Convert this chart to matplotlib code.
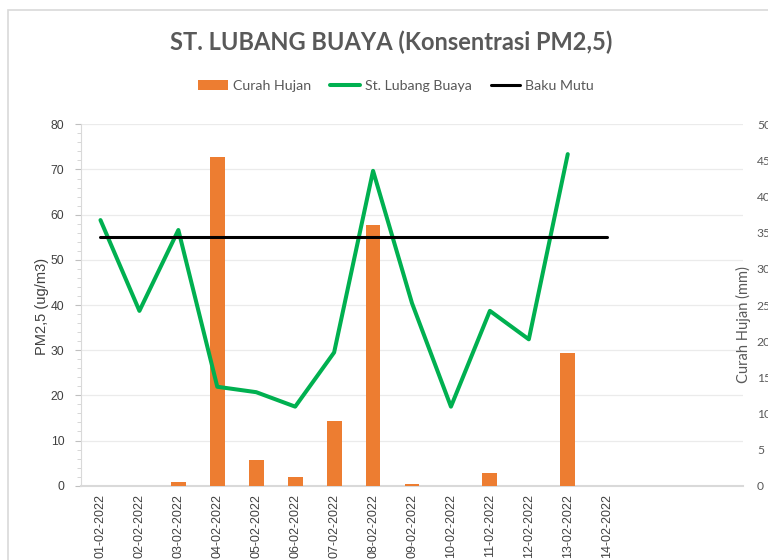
"""Grafik PM2,5 dan curah hujan St. Lubang Buaya"""

import numpy as np
import matplotlib
matplotlib.use("Agg")
import matplotlib.pyplot as plt
from matplotlib.patches import Rectangle
from matplotlib.ticker import MultipleLocator

# Data
tanggal = ["01-02-2022", "02-02-2022", "03-02-2022", "04-02-2022",
           "05-02-2022", "06-02-2022", "07-02-2022", "08-02-2022",
           "09-02-2022", "10-02-2022", "11-02-2022", "12-02-2022",
           "13-02-2022", "14-02-2022", "", "", ""]
curah_hujan = [0, 0, 0.5, 45.5, 3.5, 1.2, 9.0, 36.0, 0.3, 0, 1.8, 0, 18.3, 0,
               np.nan, np.nan, np.nan]
pm25 = [58.8, 38.7, 56.6, 21.9, 20.7, 17.5, 29.5, 69.7, 40.4, 17.5, 38.7,
        32.4, 73.4, np.nan, np.nan, np.nan, np.nan]
baku_mutu = [55] * 14 + [np.nan] * 3

ABU = "#595959"
FONT_ARIAL = "Liberation Sans"
FONT_CALIBRI = "Lato"


def main() -> None:
    """main function"""
    fig = plt.figure(figsize=(7.68, 5.6), dpi=100)
    x = np.arange(len(tanggal))

    # sumbu dasar: grid + skala kiri
    ax1 = fig.add_axes([81 / 768, 1 - 485.7 / 560, 662 / 768, 361.4 / 560])
    ax2 = ax1.twinx()  # curah hujan (kanan)
    ax3 = ax1.twinx()  # garis PM2,5 di atas batang
    for a in (ax2, ax3):
        a.patch.set_visible(False)

    ax1.set_xlim(-0.5, len(tanggal) - 0.5)
    ax1.set_ylim(0, 80)
    ax2.set_ylim(0, 50)
    ax3.set_ylim(0, 80)

    b = ax2.bar(x, curah_hujan, width=0.38, color="#ED7D31", label="Curah Hujan")
    l1, = ax3.plot(x, pm25, color="#00B050", lw=2.9, label="St. Lubang Buaya",
                   solid_joinstyle="round", solid_capstyle="round")
    l2, = ax3.plot(x, baku_mutu, color="black", lw=2.2, label="Baku Mutu",
                   solid_capstyle="round")

    # grid dan sumbu kiri
    ax1.yaxis.set_major_locator(MultipleLocator(10))
    ax1.yaxis.set_minor_locator(MultipleLocator(2))
    ax1.grid(axis="y", color="#EBEBEB", lw=0.9)
    ax1.set_axisbelow(True)
    ax1.tick_params(axis="y", which="major", length=4, color="#BFBFBF",
                    pad=8, labelsize=8.7, labelcolor="#404040")
    ax1.tick_params(axis="y", which="minor", length=3, color="#D0D0D0")
    for lab in ax1.get_yticklabels():
        lab.set_fontfamily(FONT_ARIAL)
    ax1.set_xticks(x)
    ax1.set_xticklabels(tanggal, rotation=90, fontfamily=FONT_ARIAL,
                        fontsize=9, color="#404040")
    ax1.tick_params(axis="x", length=0, pad=6)
    ax1.set_ylabel("PM2,5 (ug/m3)", fontfamily=FONT_ARIAL, fontsize=10.5,
                   color="#404040")
    ax1.yaxis.set_label_coords(-0.048, 0.497)

    for a in (ax1, ax2, ax3):
        for s in ("top", "right"):
            a.spines[s].set_visible(False)
    for a in (ax2, ax3):
        a.spines["left"].set_visible(False)
        a.spines["bottom"].set_visible(False)
    ax1.spines["left"].set_color("#D9D9D9")
    ax1.spines["left"].set_linewidth(0.8)
    ax1.spines["bottom"].set_color("#D9D9D9")
    ax1.spines["bottom"].set_linewidth(1.5)

    # sumbu kanan
    ax2.yaxis.set_major_locator(MultipleLocator(5))
    ax2.tick_params(axis="y", length=0, pad=10, labelsize=8.7, labelcolor=ABU)
    for lab in ax2.get_yticklabels():
        lab.set_fontfamily(FONT_CALIBRI)
    ax2.set_ylabel("Curah Hujan (mm)", fontfamily=FONT_CALIBRI, fontsize=10.5,
                   color=ABU)
    ax2.yaxis.set_label_coords(0.989, 0.445)
    ax3.set_yticks([])

    fig.text(391.5 / 768, 1 - 42 / 560, "ST. LUBANG BUAYA (Konsentrasi PM2,5)",
             ha="center", va="center", fontsize=17, fontweight="bold",
             color=ABU, fontfamily=FONT_CALIBRI)

    leg = fig.legend(handles=[b, l1, l2], loc="center",
                     bbox_to_anchor=(396 / 768, 1 - 86 / 560), ncol=3,
                     frameon=False, handlelength=2.1, handletextpad=0.35,
                     columnspacing=1.35,
                     prop={"family": FONT_CALIBRI, "size": 10.2})
    for t in leg.get_texts():
        t.set_color(ABU)

    # bingkai area grafik
    fig.add_artist(Rectangle((8 / 768, -0.1), 1.2, 1.1 - 9.5 / 560,
                             transform=fig.transFigure, fill=False,
                             edgecolor="#D9D9D9", lw=1.2, clip_on=False))

    fig.savefig("out.png", dpi=100)


if __name__ == "__main__":
    main()
